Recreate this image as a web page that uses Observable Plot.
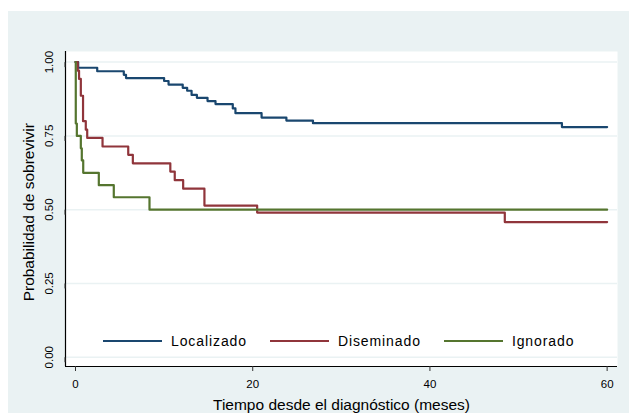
<!DOCTYPE html>
<html>
<head>
<meta charset="utf-8">
<script src="https://cdn.jsdelivr.net/npm/d3@7"></script>
<script src="https://cdn.jsdelivr.net/npm/@observablehq/plot@0.6"></script>
<style>
  html, body { margin: 0; padding: 0; background: #ffffff; }
  body { width: 629px; height: 413px; overflow: hidden; position: relative; font-family: "Liberation Sans", Arial, sans-serif; }
  #chart { position: absolute; left: 8px; top: 11px; }
  #legend { position: absolute; left: 103px; top: 330px; height: 21px; display: flex; align-items: center; font-size: 14px; letter-spacing: 0.9px; color: #000; }
</style>
</head>
<body>
<div id="chart"></div>
<div id="legend"></div>
<script>
// Series names and colours
const groups = ["Localizado", "Diseminado", "Ignorado"];
const colors = ["#1a476f", "#90353b", "#55752f"];

// Kaplan-Meier steps (time in months, survival probability)
const locT = [0, 0.3, 2.45, 5.45, 5.7, 10.0, 10.5, 12.1, 12.6, 13.1, 13.7, 14.9, 15.8, 17.75, 18.05, 21.0, 23.8, 26.8, 54.9, 60];
const locS = [1, 0.981, 0.969, 0.957, 0.946, 0.936, 0.924, 0.913, 0.903, 0.889, 0.879, 0.868, 0.858, 0.843, 0.827, 0.812, 0.802, 0.793, 0.780, 0.780];

const disT = [0, 0.25, 0.4, 0.6, 0.85, 1.16, 1.32, 3.05, 5.95, 6.47, 10.7, 11.2, 12.15, 14.55, 20.5, 48.45, 60];
const disS = [1, 0.971, 0.943, 0.886, 0.800, 0.771, 0.743, 0.714, 0.686, 0.657, 0.629, 0.600, 0.571, 0.514, 0.490, 0.458, 0.458];

const ignT = [0, 0.03, 0.15, 0.6, 0.71, 0.87, 2.63, 4.32, 8.35, 60];
const ignS = [1, 0.792, 0.750, 0.708, 0.667, 0.625, 0.583, 0.542, 0.500, 0.500];

// Axes
const xTicks = [0, 20, 40, 60];
const yTicks = [0, 0.25, 0.5, 0.75, 1];
const xDomain = [-1.13, 61.17];
const yDomain = [-0.0315, 1.036];
const xTitle = "Tiempo desde el diagnóstico (meses)";
const yTitle = "Probabilidad de sobrevivir";

const seriesT = [locT, disT, ignT];
const seriesS = [locS, disS, ignS];
const rows = [];
groups.forEach((g, i) => {
  seriesT[i].forEach((t, j) => rows.push({g, t, s: seriesS[i][j]}));
});

const plot = Plot.plot({
  width: 621,
  height: 402,
  marginLeft: 57,
  marginRight: 12,
  marginTop: 40,
  marginBottom: 47,
  style: {background: "#eaf2f3", fontFamily: "'Liberation Sans', Arial, sans-serif", color: "#000", overflow: "visible"},
  x: {domain: xDomain},
  y: {domain: yDomain},
  color: {domain: groups, range: colors},
  marks: [
    Plot.frame({fill: "white", stroke: "none"}),
    Plot.gridY(yTicks, {stroke: "#eaf2f3", strokeOpacity: 1, strokeWidth: 1.5}),
    Plot.line(rows, {x: "t", y: "s", z: "g", stroke: "g", curve: "step-after", strokeWidth: 2.2}),
    Plot.ruleX(xDomain.slice(0, 1), {stroke: "#000", strokeWidth: 1.2}),
    Plot.ruleY(yDomain.slice(0, 1), {stroke: "#000", strokeWidth: 1.2}),
    Plot.axisX({ticks: xTicks, tickSize: 5, tickPadding: 8, fontSize: 11.5, label: null, stroke: "#333"}),
    Plot.axisY({ticks: yTicks, tickSize: 5, tickPadding: 11.5, tickFormat: d3.format(".2f"), rotate: -90, textAnchor: "middle", fontSize: 11.5, label: null, stroke: "#333"}),
    Plot.text([yTitle], {frameAnchor: "left", rotate: -90, textAnchor: "middle", lineAnchor: "middle", dx: -36.7, dy: 3.2, fontSize: 15.5, fill: "#000"}),
    Plot.text([xTitle], {frameAnchor: "bottom", textAnchor: "middle", lineAnchor: "middle", dy: 39, fontSize: 15.5, fill: "#000"})
  ]
});
document.getElementById("chart").appendChild(plot);

// Legend
const legend = document.getElementById("legend");
groups.forEach((g, i) => {
  const item = document.createElement("div");
  item.style.cssText = `display:flex;align-items:center;margin-right:${i < groups.length - 1 ? 23 : 0}px`;
  const sw = document.createElement("span");
  sw.style.cssText = `display:inline-block;width:59px;height:2px;background:${colors[i]};margin-right:9px`;
  const tx = document.createElement("span");
  tx.textContent = g;
  item.appendChild(sw);
  item.appendChild(tx);
  legend.appendChild(item);
});
</script>
</body>
</html>
